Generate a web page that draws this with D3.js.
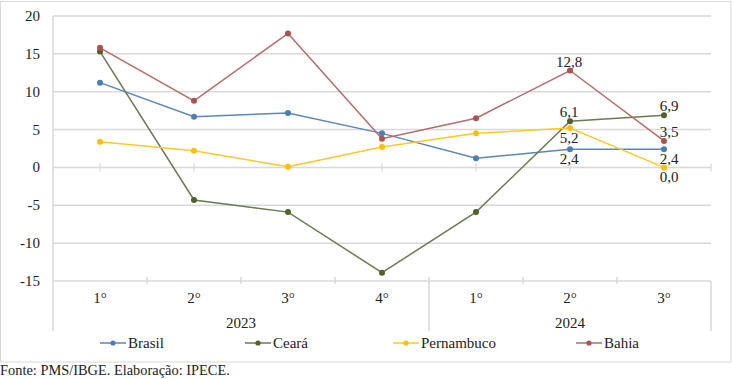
<!DOCTYPE html>
<html><head><meta charset="utf-8">
<script src="https://cdn.jsdelivr.net/npm/d3@7"></script>
<style>body{margin:0;background:#fff}svg{display:block}</style>
</head><body><svg id="c" width="732" height="379"></svg>
<script>
const quarters = ["1°","2°","3°","4°","1°","2°","3°"];
const years = [{label:"2023", from:0, to:4},{label:"2024", from:4, to:7}];
const yTicks = [20,15,10,5,0,-5,-10,-15];
const brasil = [11.2,6.7,7.2,4.5,1.2,2.4,2.4];
const ceara = [15.3,-4.3,-5.9,-13.9,-5.9,6.1,6.9];
const pernambuco = [3.4,2.2,0.1,2.7,4.5,5.2,0.0];
const bahia = [15.8,8.8,17.7,3.8,6.5,12.8,3.5];
const seriesNames = ["Brasil","Ceará","Pernambuco","Bahia"];
const seriesColors = ["#4a7ebb","#4f6228","#ffc000","#b0504f"];
const lineColors = ["#5b86bd","#6b7a52","#ffc926","#b86a6a"];
// labels: [seriesIndex, pointIndex, "above"/"below"]
const labelSpec = [[3,5,"above"],[1,5,"above"],[2,5,"below"],[0,5,"below"],
                   [1,6,"above"],[3,6,"above"],[0,6,"below"],[2,6,"below"]];

const data = [brasil, ceara, pernambuco, bahia];
const svg = d3.select("#c");
const L = 53, R = 711, T = 16, B = 281;
const x = d3.scaleBand().domain(d3.range(quarters.length)).range([L, R]);
const y = d3.scaleLinear().domain([-15, 20]).range([B, T]);
const cx = i => x(i) + x.bandwidth()/2;
const txtColor = "#222";
const fs = 15;
const FONT = '"Liberation Serif"';
const txt = sel => sel.style("font-family", FONT).attr("font-size", fs).attr("fill", txtColor);

// outer border
svg.append("rect").attr("x",0.5).attr("y",1.5).attr("width",730.5).attr("height",360.5)
  .attr("fill","none").attr("stroke","#d9d9d9").attr("stroke-width",1);

// gridlines
svg.append("g").selectAll("line").data(yTicks).join("line")
  .attr("x1",L).attr("x2",R).attr("y1",d=>y(d)).attr("y2",d=>y(d))
  .attr("stroke","#d9d9d9").attr("stroke-width",1.5);

// y axis labels
svg.append("g").selectAll("text").data(yTicks).join("text")
  .attr("x",40).attr("y",d=>y(d)+5).attr("text-anchor","end").call(txt).text(d=>d);

// frame lines
const frameBottom = 331;
[L, R, x(years[1].from)].forEach(px=>{
  svg.append("line").attr("x1",px).attr("x2",px).attr("y1",px===L?T:B).attr("y2",frameBottom)
    .attr("stroke","#d9d9d9").attr("stroke-width",1.5);
});
// category boundary ticks at bottom
svg.append("g").selectAll("line").data(d3.range(1,quarters.length)).join("line")
  .attr("x1",i=>x(i)).attr("x2",i=>x(i)).attr("y1",B-4).attr("y2",B+3)
  .attr("stroke","#d9d9d9").attr("stroke-width",1.5);
// zero line ticks at centers
svg.append("g").selectAll("line").data(d3.range(quarters.length)).join("line")
  .attr("x1",i=>cx(i)).attr("x2",i=>cx(i)).attr("y1",y(0)-4).attr("y2",y(0)+4)
  .attr("stroke","#d9d9d9").attr("stroke-width",1.2);
svg.append("line").attr("x1",R).attr("x2",R).attr("y1",y(0)-4).attr("y2",y(0)+4)
  .attr("stroke","#d9d9d9").attr("stroke-width",1.2);

// quarter labels
svg.append("g").selectAll("text").data(quarters).join("text")
  .attr("x",(d,i)=>cx(i)).attr("y",303).attr("text-anchor","middle").call(txt).text(d=>d);
// year labels
svg.append("g").selectAll("text").data(years).join("text")
  .attr("x",d=>(x(d.from)+(d.to<quarters.length?x(d.to):R))/2).attr("y",328)
  .attr("text-anchor","middle").call(txt).text(d=>d.label);

// lines
const line = d3.line().x((d,i)=>cx(i)).y(d=>y(d));
data.forEach((s,k)=>{
  svg.append("path").datum(s).attr("d",line).attr("fill","none")
    .attr("stroke",lineColors[k]).attr("stroke-width",1.5);
});
data.forEach((s,k)=>{
  svg.append("g").selectAll("circle").data(s).join("circle")
    .attr("cx",(d,i)=>cx(i)).attr("cy",d=>y(d)).attr("r",3)
    .attr("fill",seriesColors[k]);
});

// data labels
const fmt = v => v.toFixed(1).replace(".",",");
svg.append("g").selectAll("text").data(labelSpec).join("text")
  .attr("x",d=>cx(d[1]) + (d[1]===6?5:-1))
  .attr("y",d=>y(data[d[0]][d[1]]) + (d[2]==="above"?-4:15))
  .attr("text-anchor","middle").call(txt)
  .text(d=>fmt(data[d[0]][d[1]]));

// legend
const legendX = [100, 245, 393, 576];
seriesNames.forEach((n,k)=>{
  const g = svg.append("g").attr("transform",`translate(${legendX[k]},343)`);
  g.append("line").attr("x1",0).attr("x2",26).attr("stroke",lineColors[k]).attr("stroke-width",1.5);
  g.append("circle").attr("cx",13).attr("r",2.6).attr("fill",seriesColors[k]);
  g.append("text").attr("x",28).attr("y",5).call(txt).text(n);
});

// footnote
svg.append("text").attr("x",0).attr("y",375).call(txt).attr("font-size",14.4)
  .text("Fonte: PMS/IBGE. Elaboração: IPECE.");
</script></body></html>
